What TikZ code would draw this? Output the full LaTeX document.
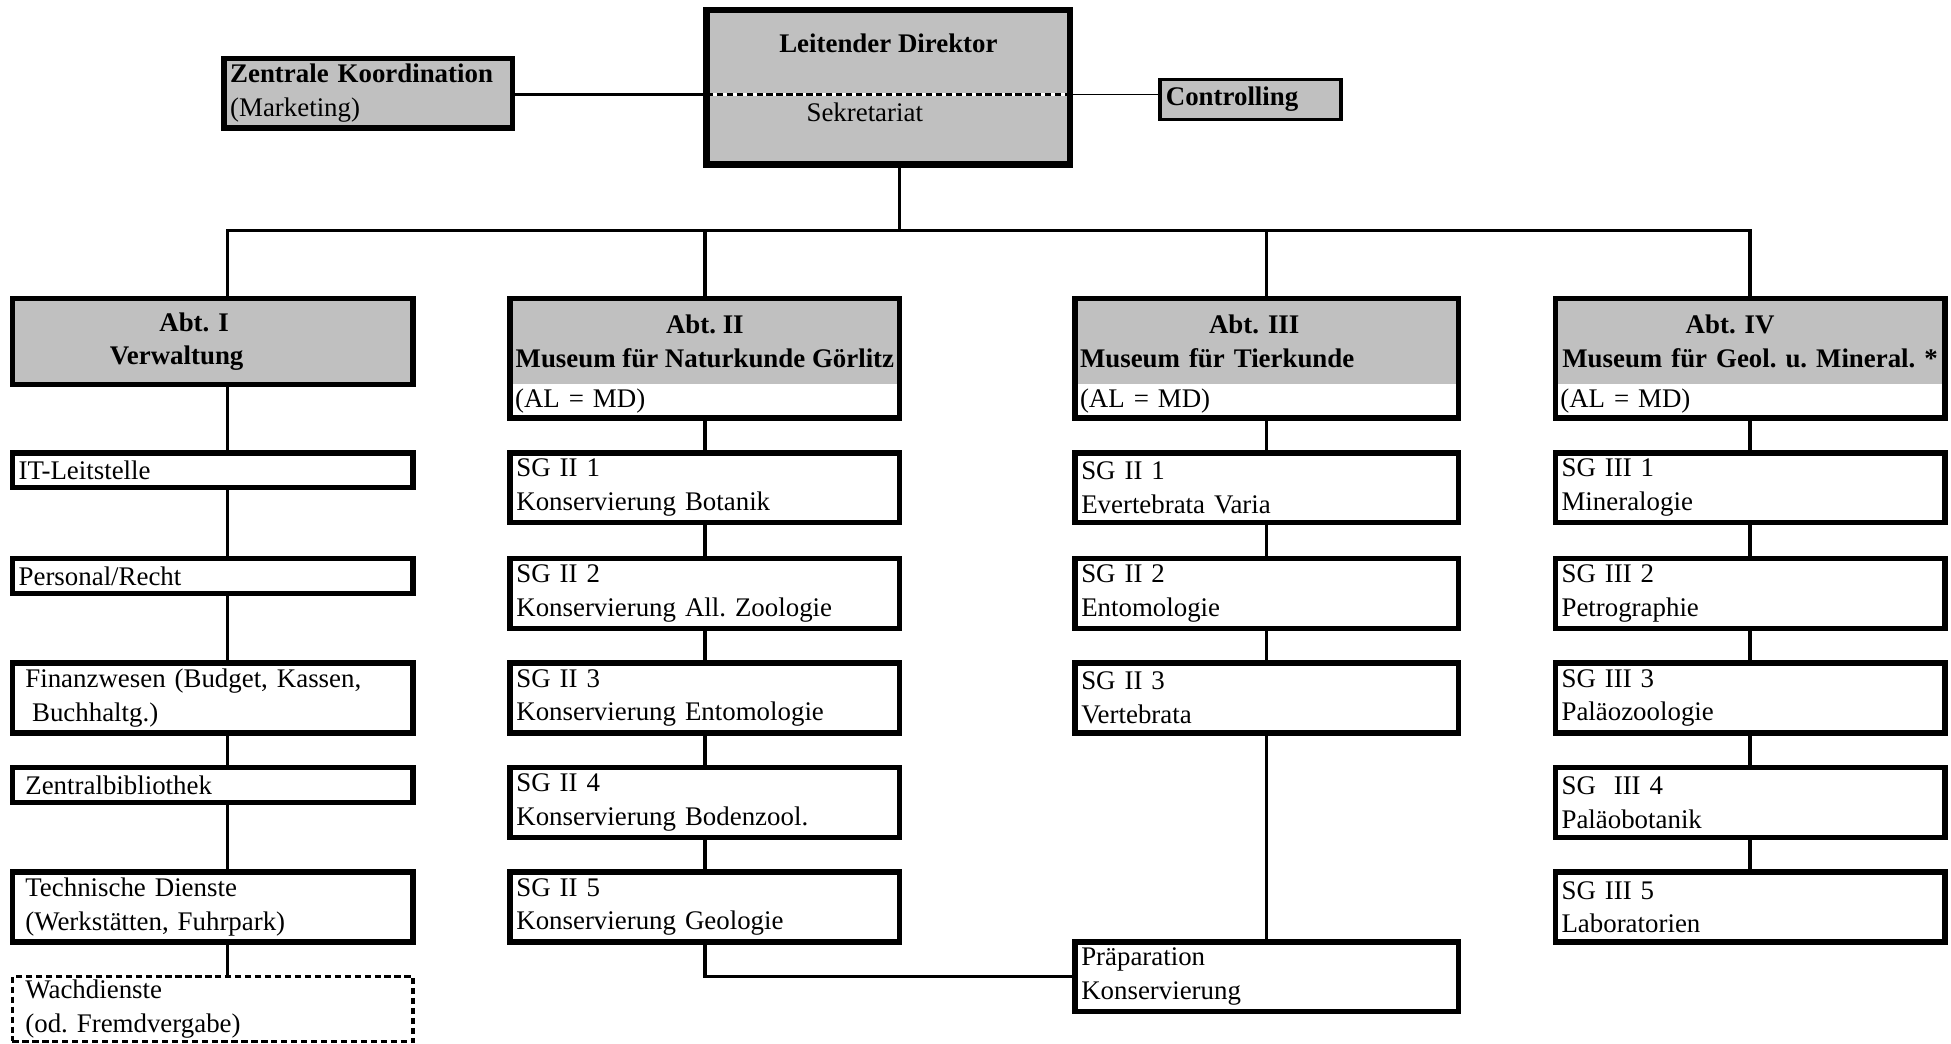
\documentclass[tikz,border=0pt]{standalone}
\usepackage{fontspec}
\setmainfont{Liberation Serif}
\usepackage{tikz}

\definecolor{boxgray}{RGB}{192,192,192}
\newcommand{\chartfont}{\fontsize{10.8}{13.5}\selectfont\frenchspacing}
\newcommand{\indsp}{\hspace*{2.7pt}}

\tikzset{
  conn/.style={line width=1.3pt},
  unitbox/.style={draw, line width=2.2pt, fill=white, anchor=north west,
    align=left, inner xsep=2.5pt, inner ysep=0pt, outer sep=0pt},
  onebox/.style={unitbox, minimum height=14pt},
  twobox/.style={unitbox, minimum height=28pt},
  colI/.style={text width=156pt},
  colII/.style={text width=151.5pt},
  colIII/.style={text width=149pt},
  dashbox/.style={draw, line width=1.3pt, dash pattern=on 2.5pt off 1.5pt},
  headbox/.style={fill=boxgray, anchor=north west, align=center,
    font=\chartfont\bfseries, inner xsep=2pt, inner ysep=0pt, outer sep=0pt,
    minimum height=34.5pt},
  albox/.style={fill=white, anchor=north west, align=left,
    inner xsep=2pt, inner ysep=0pt, outer sep=0pt, minimum height=13.5pt},
  frame/.style={draw, line width=2.2pt},
  sidebox/.style={draw, line width=2.2pt, fill=boxgray, anchor=north west,
    align=left, inner xsep=2.5pt, inner ysep=0pt, outer sep=0pt}
}

\begin{document}
\begin{tikzpicture}[x=0.5pt, y=-0.5pt, every node/.style={font=\chartfont}]
  \useasboundingbox (0,0) rectangle (1568,839);

  % Leitung
  \node[draw, line width=2.7pt, fill=boxgray, anchor=north west, outer sep=0pt,
    minimum width=146pt, minimum height=62pt] (ld) at (568,8) {};
  \node[font=\chartfont\bfseries] (ldname) at (714,35) {Leitender Direktor};
  \node (sekr) at (695,90) {Sekretariat};
  \coordinate (sekw) at ([yshift=-3pt]ld.west);
  \coordinate (seke) at ([yshift=-3pt]ld.east);
  \draw[white, line width=1.2pt] (sekw) -- (seke);
  \draw[line width=1.2pt, dash pattern=on 2.5pt off 1.5pt] (sekw) -- (seke);

  \node[sidebox, text width=111pt, minimum height=28pt] (zk) at (180,47)
    {\textbf{Zentrale Koordination}\\(Marketing)};
  \node[sidebox, line width=1.5pt, font=\chartfont\bfseries, text width=68pt,
    minimum height=16pt] (ctrl) at (932,64) {Controlling};
  \draw[conn] (zk.east |- sekw) -- (sekw);
  \draw[line width=0.7pt] (seke) -- (ctrl.west |- seke);

  % Abteilungen
  \node[headbox, text width=157pt] (abt1) at (10,240)
    {\hspace*{-15pt}Abt. I\\\hspace*{-29pt}Verwaltung};
  \draw[frame] (abt1.north west) rectangle (abt1.south east);

  \node[headbox, minimum width=156.5pt] (abt2) at (410,240)
    {Abt. II\\Museum für Naturkunde Görlitz};
  \node[albox, text width=152.5pt] (al2) at (abt2.south west) {(AL = MD)};
  \draw[frame] (abt2.north west) rectangle (al2.south east);

  \node[headbox, text width=150pt] (abt3) at (864,240)
    {\hspace*{-10pt}Abt. III\\\makebox[150pt][l]{Museum für Tierkunde}};
  \node[albox, text width=150pt] (al3) at (abt3.south west) {(AL = MD)};
  \draw[frame] (abt3.north west) rectangle (al3.south east);

  \node[headbox, text width=152.5pt] (abt4) at (1250,240)
    {\hspace*{-16pt}Abt. IV\\\makebox[152.5pt][c]{Museum für Geol. u. Mineral. *}};
  \node[albox, text width=152.5pt] (al4) at (abt4.south west) {(AL = MD)};
  \draw[frame] (abt4.north west) rectangle (al4.south east);

  % Verbindung Leitung - Abteilungen
  \coordinate (bus) at (723,185);
  \coordinate (axI) at (183,0);
  \draw[conn] ([xshift=4.5pt]ld.south) -- (bus);
  \draw[conn] (abt1.north -| axI) -- (axI |- bus) -- (abt4.north |- bus) -- (abt4.north);
  \draw[conn] (abt2.north) -- (abt2.north |- bus);
  \draw[conn] (abt3.north) -- (abt3.north |- bus);

  % Abt. I
  \node[onebox, colI] (it) at (10,364) {IT-Leitstelle};
  \node[onebox, colI] (pers) at (10,449) {Personal/Recht};
  \node[twobox, colI] (fin) at (10,533)
    {\indsp Finanzwesen (Budget, Kassen,\\\indsp\indsp Buchhaltg.)};
  \node[onebox, colI] (zb) at (10,617) {\indsp Zentralbibliothek};
  \node[twobox, colI] (tech) at (10,701)
    {\indsp Technische Dienste\\\indsp(Werkstätten, Fuhrpark)};
  \node[unitbox, dashbox, colI, minimum height=26pt] (wach) at (10,785)
    {\indsp Wachdienste\\\indsp(od. Fremdvergabe)};
  \draw[conn] (abt1.south -| axI) -- (it.north -| axI);
  \draw[conn] (it.south -| axI) -- (pers.north -| axI);
  \draw[conn] (pers.south -| axI) -- (fin.north -| axI);
  \draw[conn] (fin.south -| axI) -- (zb.north -| axI);
  \draw[conn] (zb.south -| axI) -- (tech.north -| axI);
  \draw[conn] (tech.south -| axI) -- (wach.north -| axI);

  % Abt. II
  \node[twobox, colII] (sg21) at (410,364) {SG II 1\\Konservierung Botanik};
  \node[twobox, colII] (sg22) at (410,449) {SG II 2\\Konservierung All. Zoologie};
  \node[twobox, colII] (sg23) at (410,533) {SG II 3\\Konservierung Entomologie};
  \node[twobox, colII] (sg24) at (410,617) {SG II 4\\Konservierung Bodenzool.};
  \node[twobox, colII] (sg25) at (410,701) {SG II 5\\Konservierung Geologie};
  \draw[conn] (al2.south) -- (sg21.north);
  \draw[conn] (sg21.south) -- (sg22.north);
  \draw[conn] (sg22.south) -- (sg23.north);
  \draw[conn] (sg23.south) -- (sg24.north);
  \draw[conn] (sg24.south) -- (sg25.north);

  % Abt. III
  \node[twobox, colIII] (te1) at (864,364) {SG II 1\\Evertebrata Varia};
  \node[twobox, colIII] (te2) at (864,449) {SG II 2\\Entomologie};
  \node[twobox, colIII] (te3) at (864,533) {SG II 3\\Vertebrata};
  \node[twobox, colIII] (prep) at (864,757) {Präparation\\Konservierung};
  \draw[conn] (al3.south) -- (te1.north);
  \draw[conn] (te1.south) -- (te2.north);
  \draw[conn] (te2.south) -- (te3.north);
  \draw[conn] (te3.south) -- (prep.north);
  \draw[conn] (sg25.south) |- (prep.west);

  % Abt. IV
  \node[twobox, colII] (sg31) at (1250,364) {SG III 1\\Mineralogie};
  \node[twobox, colII] (sg32) at (1250,449) {SG III 2\\Petrographie};
  \node[twobox, colII] (sg33) at (1250,533) {SG III 3\\Paläozoologie};
  \node[twobox, colII] (sg34) at (1250,617) {SG\ \ III 4\\Paläobotanik};
  \node[twobox, colII] (sg35) at (1250,701) {SG III 5\\Laboratorien};
  \draw[conn] (al4.south) -- (sg31.north);
  \draw[conn] (sg31.south) -- (sg32.north);
  \draw[conn] (sg32.south) -- (sg33.north);
  \draw[conn] (sg33.south) -- (sg34.north);
  \draw[conn] (sg34.south) -- (sg35.north);
\end{tikzpicture}
\end{document}
